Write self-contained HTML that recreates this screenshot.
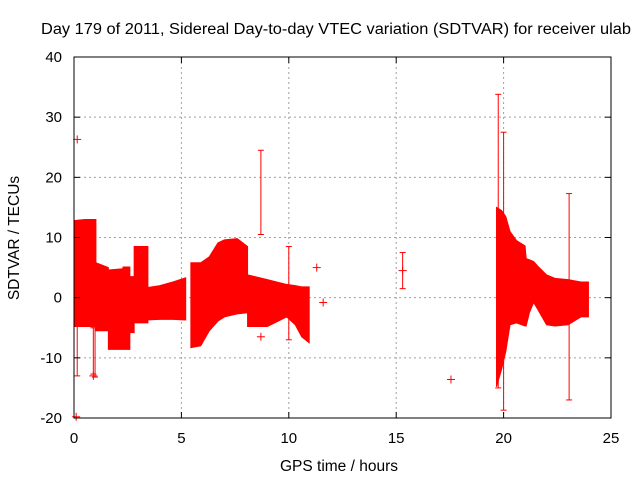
<!DOCTYPE html>
<html><head><meta charset="utf-8"><style>
body{margin:0;background:#fff;}
svg{display:block;font-family:"Liberation Sans",sans-serif;}
</style></head><body>
<svg id="chart" width="640" height="480">
<rect width="640" height="480" fill="#fff"/>
<text x="336" y="34" font-size="15.5" text-anchor="middle" textLength="590" lengthAdjust="spacingAndGlyphs">Day 179 of 2011, Sidereal Day-to-day VTEC variation (SDTVAR) for receiver ulab</text>
<text x="339" y="471" font-size="15.5" text-anchor="middle">GPS time / hours</text>
<text x="19" y="238" font-size="15.5" text-anchor="middle" transform="rotate(-90 19 238)">SDTVAR / TECUs</text>
<g id="grid"></g><g id="data"></g><g id="axes"></g>
</svg>
<script>
const xTicks=[0,5,10,15,20,25];
const yTicks=[-20,-10,0,10,20,30,40];
// envelope blocks: times, upper, lower (repeated times = steps)
const blockTimes=[
 [0.00,0.5,1.02,1.02,1.6,1.6,2.28,2.28,2.6,2.6,2.8,2.8,3.44,3.44,4.0,4.6,5.2],
 [5.44,5.9,6.3,6.7,7.0,7.6,8.08,8.08,9.0,9.9,10.3,10.6,10.95],
 [19.67,19.9,20.1,20.3,20.6,21.0,21.05,21.2,21.4,21.6,22.0,22.4,23.0,23.6,23.95]];
const blockHigh=[
 [12.8,13.0,13.0,5.8,5.0,4.6,4.8,5.1,5.1,3.5,3.5,8.5,8.5,1.7,2.0,2.6,3.3],
 [5.8,5.8,6.8,9.1,9.6,9.8,8.5,3.8,3.0,2.2,2.0,1.8,1.8],
 [15,14.5,13.5,11,9.5,8.6,6.5,6.3,6.0,5.2,3.8,3.2,3.0,2.6,2.6]];
const blockLow=[
 [-4.8,-4.8,-4.8,-5.5,-5.5,-8.6,-8.6,-8.6,-8.6,-5.8,-5.8,-4.2,-4.2,-3.7,-3.6,-3.6,-3.7],
 [-8.3,-8.0,-5.5,-3.9,-3.2,-2.7,-2.5,-4.8,-4.8,-3.2,-4.5,-6.5,-7.5],
 [-14.8,-12,-9,-4.5,-4.2,-4.7,-4.7,-2.5,-0.8,-2,-4.5,-4.7,-4.5,-3.2,-3.2]];
// error bars
const barTimes=[0.15,0.9,0.98,8.7,10.0,15.3,19.75,20.0,23.05];
const barHigh=[12,-5,-5,24.5,8.5,7.5,33.8,27.5,17.3];
const barLow=[-13,-12.7,-13.2,10.5,-7,1.5,-15,-18.7,-17];
// outlier points
const ptTimes=[0.15,0.1,8.7,11.3,11.6,15.3,17.55,0.9];
const ptValues=[26.3,-19.8,-6.5,5,-0.8,4.5,-13.6,-13];

const X0=74,X1=611,Y0=418,Y1=57;
const sx=t=>X0+(t-0)/25*(X1-X0);
const sy=v=>Y0-(v+20)/60*(Y0-Y1);
const NS="http://www.w3.org/2000/svg";
function mk(tag,attrs,parent){const e=document.createElementNS(NS,tag);for(const k in attrs)e.setAttribute(k,attrs[k]);parent.appendChild(e);return e;}
const grid=document.getElementById('grid'),data=document.getElementById('data'),axes=document.getElementById('axes');
xTicks.forEach(t=>{
 if(t>0&&t<25){const l=mk('line',{x1:sx(t),x2:sx(t),y1:Y1,y2:Y0,stroke:'#a0a0a0','stroke-dasharray':'2,3'},grid);
 
 }
 const tk=mk('text',{x:sx(t),y:443,'font-size':15,'text-anchor':'middle'},axes);tk.textContent=t;
 
 
 mk('line',{x1:sx(t),x2:sx(t),y1:Y0,y2:Y0-6,stroke:'#000'},axes);
 mk('line',{x1:sx(t),x2:sx(t),y1:Y1,y2:Y1+6,stroke:'#000'},axes);
});
yTicks.forEach(v=>{
 if(v>-20&&v<40){const l=mk('line',{x1:X0,x2:X1,y1:sy(v),y2:sy(v),stroke:'#a0a0a0','stroke-dasharray':'2,3'},grid);
 
 }
 const tk=mk('text',{x:62,y:sy(v)+5,'font-size':15,'text-anchor':'end'},axes);tk.textContent=v;
 
 
 mk('line',{x1:X0,x2:X0+6,y1:sy(v),y2:sy(v),stroke:'#000'},axes);
 mk('line',{x1:X1,x2:X1-6,y1:sy(v),y2:sy(v),stroke:'#000'},axes);
});
const fr=mk('rect',{x:X0,y:Y1,width:X1-X0,height:Y0-Y1,fill:'none',stroke:'#000'},axes);


blockTimes.forEach((ts,b)=>{
 const pts=[];
 ts.forEach((t,i)=>pts.push(sx(t)+','+sy(blockHigh[b][i])));
 for(let i=ts.length-1;i>=0;i--)pts.push(sx(ts[i])+','+sy(blockLow[b][i]));
 const p=mk('polygon',{points:pts.join(' '),fill:'#ff0000',stroke:'#ff0000','stroke-width':1},data);
 
 
});
barTimes.forEach((t,i)=>{
 const g=mk('g',{stroke:'#ff0000','stroke-width':1},data);
 
 
 const x=sx(t);
 mk('line',{x1:x,x2:x,y1:sy(barHigh[i]),y2:sy(barLow[i])},g);
 mk('line',{x1:x-3,x2:x+3,y1:sy(barHigh[i]),y2:sy(barHigh[i])},g);
 mk('line',{x1:x-3,x2:x+3,y1:sy(barLow[i]),y2:sy(barLow[i])},g);
});
ptTimes.forEach((t,i)=>{
 const g=mk('g',{stroke:'#ff0000','stroke-width':1},data);
 
 
 const x=sx(t),y=sy(ptValues[i]);
 mk('line',{x1:x-4,x2:x+4,y1:y,y2:y},g);
 mk('line',{x1:x,x2:x,y1:y-4,y2:y+4},g);
});
</script>
</body></html>
